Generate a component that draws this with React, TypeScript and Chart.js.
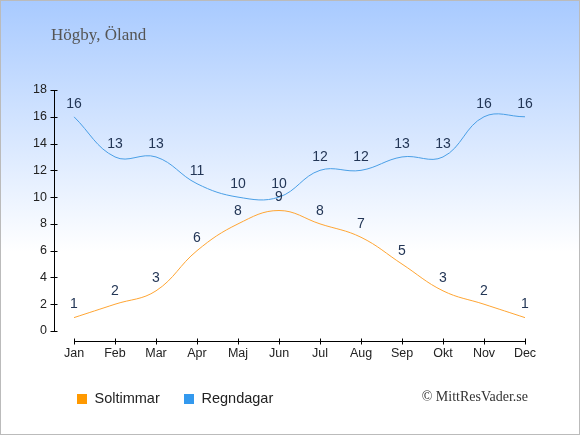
import React, { useEffect, useRef } from 'react'
import Chart, { ChartConfiguration, Plugin } from 'chart.js/auto'

const months = ['Jan', 'Feb', 'Mar', 'Apr', 'Maj', 'Jun', 'Jul', 'Aug', 'Sep', 'Okt', 'Nov', 'Dec']
const soltimmar = [1, 2, 3, 6, 8, 9, 8, 7, 5, 3, 2, 1]
const regndagar = [16, 13, 13, 11, 10, 10, 12, 12, 13, 13, 16, 16]
const yTicks = [0, 2, 4, 6, 8, 10, 12, 14, 16, 18]

const title = 'Högby, Öland'
const credit = '© MittResVader.se'

const sans = '"Liberation Sans", Arial, sans-serif'
const serif = '"Liberation Serif", "Times New Roman", serif'

// legend positions (the built-in legend can't sit this far right of the y labels)
const legendX = [77, 184]
const legendY = 399

const decor: Plugin = {
  id: 'decor',
  beforeDraw(chart) {
    const { ctx, width, height } = chart
    const g = ctx.createLinearGradient(0, 0, 0, height)
    g.addColorStop(0, '#a8caff')
    g.addColorStop(0.58, '#ffffff')
    g.addColorStop(1, '#ffffff')
    ctx.save()
    ctx.fillStyle = g
    ctx.fillRect(0, 0, width, height)
    ctx.restore()
  },
  afterDatasetsDraw(chart) {
    const { ctx } = chart
    ctx.save()
    ctx.font = `14px ${sans}`
    ctx.fillStyle = '#233656'
    ctx.textAlign = 'center'
    ctx.textBaseline = 'middle'
    chart.data.datasets.forEach((ds, di) => {
      const meta = chart.getDatasetMeta(di)
      meta.data.forEach((pt: any, i) => {
        ctx.fillText(String(ds.data[i]), pt.x, pt.y - 13)
      })
    })
    ctx.restore()
  },
  afterDraw(chart) {
    const { ctx, width, height, scales } = chart
    const x = scales.x
    const y = scales.y
    ctx.save()
    ctx.strokeStyle = '#000'
    ctx.lineWidth = 1
    // y axis
    const ax = Math.round(chart.chartArea.left - 20) + 0.5
    const yTop = y.getPixelForValue(18)
    const yBot = y.getPixelForValue(0)
    ctx.beginPath()
    ctx.moveTo(ax, yTop)
    ctx.lineTo(ax, yBot)
    yTicks.forEach(v => {
      const py = Math.round(y.getPixelForValue(v)) + 0.5
      ctx.moveTo(ax - 4, py)
      ctx.lineTo(ax + 3, py)
    })
    // x axis
    const ay = Math.round(chart.chartArea.bottom + 10) + 0.5
    const xL = x.getPixelForValue(0)
    const xR = x.getPixelForValue(months.length - 1)
    ctx.moveTo(xL, ay)
    ctx.lineTo(xR, ay)
    months.forEach((_, i) => {
      const px = Math.round(x.getPixelForValue(i)) + 0.5
      ctx.moveTo(px, ay - 3)
      ctx.lineTo(px, ay + 3)
    })
    ctx.stroke()

    // legend
    ctx.font = `14.5px ${sans}`
    ctx.textAlign = 'left'
    ctx.textBaseline = 'middle'
    chart.data.datasets.forEach((ds, di) => {
      const lx = legendX[di]
      ctx.fillStyle = ds.backgroundColor as string
      ctx.fillRect(lx, legendY - 5, 10, 10)
      ctx.fillStyle = '#222'
      ctx.fillText(ds.label || '', lx + 17.5, legendY)
    })

    ctx.font = `17px ${serif}`
    ctx.fillStyle = '#555555'
    ctx.textBaseline = 'alphabetic'
    ctx.fillText(title, 51, 40)

    ctx.font = `14px ${serif}`
    ctx.fillStyle = '#333333'
    ctx.textAlign = 'right'
    ctx.fillText(credit, 528, 401)

    ctx.strokeStyle = '#bbbbbb'
    ctx.strokeRect(0.5, 0.5, width - 1, height - 1)
    ctx.restore()
  },
}

const App = () => {
  const canvasRef = useRef<HTMLCanvasElement>(null)

  useEffect(() => {
    document.body.style.margin = '0'
    if (!canvasRef.current) return
    const ctx = canvasRef.current.getContext('2d')
    if (!ctx) return

    const config: ChartConfiguration<'line'> = {
      type: 'line',
      data: {
        labels: months,
        datasets: [
          {
            label: 'Soltimmar',
            data: soltimmar,
            borderColor: '#ffa533',
            backgroundColor: '#ff9900',
            borderWidth: 1,
            pointRadius: 0,
            tension: 0.4,
            fill: false,
          },
          {
            label: 'Regndagar',
            data: regndagar,
            borderColor: '#4a9fe6',
            backgroundColor: '#3399ee',
            borderWidth: 1,
            pointRadius: 0,
            tension: 0.4,
            fill: false,
          },
        ],
      },
      options: {
        responsive: false,
        animation: false,
        layout: { padding: { left: 24, right: 55, top: 90, bottom: 67.65 } },
        plugins: {
          title: { display: false },
          tooltip: { enabled: false },
          legend: { display: false },
        },
        scales: {
          x: {
            offset: false,
            grid: { display: false, drawTicks: false },
            border: { display: false },
            ticks: { color: '#222', font: { size: 12.5, family: sans }, padding: 15.5, maxRotation: 0 },
            afterFit: (scale) => { scale.height = 36.35 },
          },
          y: {
            min: 0,
            max: 18,
            grid: { display: false, drawTicks: false },
            border: { display: false },
            ticks: { stepSize: 2, color: '#222', font: { size: 12.5, family: sans }, padding: 27 },
            afterFit: (scale) => { scale.width = 50 },
          },
        },
      },
      plugins: [decor],
    }

    const chart = new Chart(ctx, config)
    return () => chart.destroy()
  }, [])

  return (
    <div style={{ width: 580, height: 435 }}>
      <canvas ref={canvasRef} width={580} height={435} />
    </div>
  )
}

export default App
